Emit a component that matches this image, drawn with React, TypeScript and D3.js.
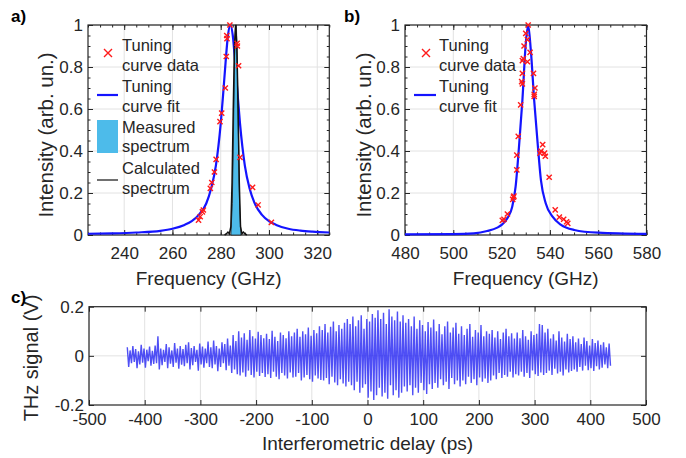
import { useEffect, useRef } from 'react';
import * as d3 from 'd3';

const W = 686, H = 458;
const FONT = '"Liberation Sans", Arial, Helvetica, sans-serif';
const INK = '#262626';
const RED = '#ff1a1a';
const BLUE = '#1414ff';
const CYAN = '#4dbbea';

// ---- panel a ----
const fitAFreq = [225, 235, 245, 255, 260, 265, 268, 271, 274, 276, 278, 280, 281, 282, 283, 284, 285, 286, 287, 288, 290, 292, 294, 297, 300, 303, 308, 313, 318, 325];
const fitAVal = [0.006, 0.008, 0.012, 0.02, 0.03, 0.048, 0.066, 0.097, 0.15, 0.22, 0.33, 0.53, 0.67, 0.82, 0.95, 1.0, 0.95, 0.82, 0.67, 0.53, 0.33, 0.22, 0.153, 0.097, 0.066, 0.048, 0.03, 0.021, 0.016, 0.012];
const dataAFreq = [283.8, 282.5, 282.6, 286.8, 286.9, 287.4, 282.3, 281.9, 280.4, 279.7, 288.0, 278.1, 277.4, 276.3, 275.7, 293.2, 295.5, 272.8, 272.4, 271.5, 270.8, 301.0];
const dataAVal = [1.0, 0.95, 0.935, 0.913, 0.9, 0.806, 0.85, 0.70, 0.58, 0.54, 0.37, 0.36, 0.30, 0.25, 0.222, 0.227, 0.143, 0.119, 0.11, 0.087, 0.071, 0.06];
const measFreq = [284.2, 284.8, 285.3, 285.7, 286.1, 286.5, 286.9, 287.3, 287.8, 288.4];
const measVal = [0, 0.15, 0.5, 0.85, 1.0, 1.0, 0.8, 0.5, 0.15, 0];
const calcFreq = [281.6, 282.4, 283.0, 283.6, 284.2, 284.7, 285.2, 285.7, 286.2, 286.7, 287.2, 287.7, 288.2, 288.8, 289.4, 290.0, 290.8];
const calcVal = [0, 0.006, 0.014, 0.006, 0.04, 0.25, 0.6, 0.9, 1.0, 0.9, 0.6, 0.25, 0.04, 0.006, 0.014, 0.006, 0];
const ticksA = [240, 260, 280, 300, 320];

// ---- panel b ----
const fitBFreq = [480, 500, 508.5, 514, 518.2, 520, 522.4, 524.4, 525.8, 527.2, 528.6, 530, 531, 532.1, 533.5, 534.9, 536.3, 538.3, 541.1, 544.6, 550.1, 560, 580];
const fitBVal = [0.003, 0.004, 0.008, 0.019, 0.035, 0.048, 0.08, 0.135, 0.23, 0.42, 0.64, 0.91, 1.0, 0.88, 0.64, 0.44, 0.26, 0.15, 0.087, 0.048, 0.024, 0.011, 0.005];
const dataBFreq = [531.0, 530.0, 530.7, 529.3, 531.8, 528.6, 529.0, 530.7, 533.2, 528.6, 528.3, 528.6, 533.8, 533.5, 533.5, 527.9, 526.9, 526.3, 526.3, 524.9, 524.6, 525.1, 522.4, 520.3, 521.0, 537.0, 536.3, 535.9, 537.8, 538.1, 539.7, 542.2, 543.9, 545.7, 546.9, 547.4];
const dataBVal = [1.0, 0.96, 0.93, 0.90, 0.87, 0.83, 0.84, 0.825, 0.77, 0.77, 0.73, 0.72, 0.70, 0.67, 0.66, 0.62, 0.47, 0.38, 0.31, 0.18, 0.17, 0.185, 0.10, 0.07, 0.075, 0.43, 0.40, 0.39, 0.39, 0.375, 0.275, 0.12, 0.085, 0.075, 0.063, 0.055];
const ticksB = [480, 500, 520, 540, 560, 580];
const ticksY = [0, 0.2, 0.4, 0.6, 0.8, 1];

// ---- panel c: max / min of the THz signal in 5 ps bins, mV ----
const sigHi = [
  35, 22, 40, 28, 18, 45, 30, 25, 38, 20,
  42, 80, 30, 25, 48, 35, 22, 52, 30, 40,
  28, 45, 55, 32, 40, 25, 50, 38, 30, 58,
  35, 62, 40, 30, 55, 48, 70, 42, 85, 60,
  100, 75, 92, 65, 105, 80, 70, 98, 85, 72,
  90, 68, 102, 78, 60, 95, 85, 72, 100, 80,
  95, 110, 78, 100, 88, 115, 82, 105, 92, 120,
  105, 130, 95, 118, 140, 100, 125, 110, 135, 150,
  130, 160, 120, 145, 165, 110, 150, 140, 170, 155,
  185, 150, 175, 130, 190, 160, 145, 180, 140, 165,
  135, 150, 120, 160, 110, 145, 125, 100, 138, 115,
  148, 100, 130, 88, 120, 140, 95, 115, 135, 90,
  120, 85, 110, 130, 78, 105, 95, 125, 80, 100,
  90, 105, 75, 100, 68, 95, 110, 80, 92, 70,
  95, 72, 105, 80, 65, 100, 85, 90, 130, 125,
  95, 110, 70, 88, 62, 100, 75, 58, 90, 68,
  80, 55, 70, 48, 75, 60, 42, 68, 52, 62,
  45, 55, 35, 50,
];
const sigLo = [
  -45, -30, -25, -50, -35, -28, -48, -22, -40, -33,
  -30, -55, -38, -25, -50, -32, -45, -28, -52, -36,
  -42, -30, -55, -38, -25, -60, -35, -48, -30, -45,
  -50, -35, -62, -45, -30, -58, -40, -70, -55, -75,
  -80, -68, -85, -60, -78, -88, -65, -82, -70, -86,
  -75, -90, -65, -85, -95, -70, -80, -92, -68, -88,
  -85, -70, -100, -88, -78, -95, -105, -80, -92, -98,
  -100, -90, -115, -85, -108, -120, -95, -112, -125, -105,
  -120, -140, -105, -150, -130, -115, -170, -145, -180, -160,
  -130, -165, -150, -175, -120, -160, -140, -170, -150, -125,
  -145, -120, -160, -130, -150, -110, -140, -155, -115, -135,
  -110, -130, -95, -120, -105, -135, -90, -115, -100, -125,
  -100, -115, -85, -110, -95, -120, -88, -105, -92, -110,
  -100, -80, -95, -70, -90, -78, -85, -65, -88, -75,
  -80, -65, -85, -70, -90, -60, -75, -82, -68, -78,
  -70, -60, -78, -52, -72, -65, -80, -55, -68, -62,
  -55, -65, -45, -60, -40, -58, -50, -62, -42, -55,
  -48, -35, -50, -40,
];
const ticksCx = [-500, -400, -300, -200, -100, 0, 100, 200, 300, 400, 500];
const ticksCy = [-0.2, 0, 0.2];

type Sel = d3.Selection<SVGGElement, unknown, null, undefined>;

interface FrameOpts {
  xt: number[]; yt: number[];       // major ticks
  xg: number[]; yg: number[];       // grid lines
  xm: number[]; ym: number[];       // minor ticks
  padX: number;
}

function frame(g: Sel, x: any, y: any, o: FrameOpts) {
  const [x0, x1] = x.range();
  const [yb, yt0] = y.range();
  g.append('g').selectAll('line').data(o.xg).join('line')
    .attr('x1', (d: number) => x(d)).attr('x2', (d: number) => x(d)).attr('y1', yt0).attr('y2', yb)
    .attr('stroke', '#e2e2e2').attr('stroke-width', 1);
  g.append('g').selectAll('line').data(o.yg).join('line')
    .attr('y1', (d: number) => y(d)).attr('y2', (d: number) => y(d)).attr('x1', x0).attr('x2', x1)
    .attr('stroke', '#e2e2e2').attr('stroke-width', 1);

  const style = (a: Sel) => {
    a.select('.domain').remove();
    a.selectAll('line').attr('stroke', INK);
    a.selectAll('text').attr('fill', INK).attr('font-family', FONT).attr('font-size', 17);
  };
  const none = () => '';
  if (o.xm.length) {
    g.append('g').attr('transform', `translate(0,${yb})`)
      .call(d3.axisBottom(x).tickValues(o.xm).tickSize(-2.5).tickFormat(none)).call(style);
    g.append('g').attr('transform', `translate(0,${yt0})`)
      .call(d3.axisTop(x).tickValues(o.xm).tickSize(-2.5).tickFormat(none)).call(style);
  }
  if (o.ym.length) {
    g.append('g').attr('transform', `translate(${x0},0)`)
      .call(d3.axisLeft(y).tickValues(o.ym).tickSize(-2.5).tickFormat(none)).call(style);
    g.append('g').attr('transform', `translate(${x1},0)`)
      .call(d3.axisRight(y).tickValues(o.ym).tickSize(-2.5).tickFormat(none)).call(style);
  }
  g.append('g').attr('transform', `translate(0,${yb})`)
    .call(d3.axisBottom(x).tickValues(o.xt).tickSize(-5).tickPadding(o.padX).tickFormat((d: any) => String(d))).call(style);
  g.append('g').attr('transform', `translate(0,${yt0})`)
    .call(d3.axisTop(x).tickValues(o.xt).tickSize(-5).tickFormat(none)).call(style);
  g.append('g').attr('transform', `translate(${x0},0)`)
    .call(d3.axisLeft(y).tickValues(o.yt).tickSize(-5).tickPadding(5).tickFormat((d: any) => String(d))).call(style);
  g.append('g').attr('transform', `translate(${x1},0)`)
    .call(d3.axisRight(y).tickValues(o.yt).tickSize(-5).tickFormat(none)).call(style);
  g.append('rect').attr('x', x0).attr('y', yt0).attr('width', x1 - x0).attr('height', yb - yt0)
    .attr('fill', 'none').attr('stroke', INK).attr('stroke-width', 1.2);
}

function crosses(g: Sel, xs: number[], vs: number[], x: any, y: any, r: number) {
  g.append('g').selectAll('path').data(xs).join('path')
    .attr('d', (d: number, i: number) => {
      const cx = x(d), cy = y(vs[i]);
      return `M${cx - r},${cy - r}L${cx + r},${cy + r}M${cx - r},${cy + r}L${cx + r},${cy - r}`;
    })
    .attr('stroke', RED).attr('stroke-width', 1.4).attr('fill', 'none');
}

function label(svg: any, txt: string, x: number, y: number, size: number, rot = false, bold = false, anchor = 'middle') {
  svg.append('text')
    .attr('transform', rot ? `translate(${x},${y}) rotate(-90)` : `translate(${x},${y})`)
    .attr('text-anchor', anchor).attr('font-family', FONT).attr('font-size', size)
    .attr('font-weight', bold ? 'bold' : 'normal').attr('fill', bold ? '#000' : INK).text(txt);
}

export default function App() {
  const ref = useRef<SVGSVGElement>(null);

  useEffect(() => {
    if (!ref.current) return;
    const svg = d3.select(ref.current);
    svg.selectAll('*').remove();
    const minorY = d3.range(0, 1.0001, 0.05);

    // ---------- panel a ----------
    const xa = d3.scaleLinear().domain([225, 325]).range([88, 329.3]);
    const ya = d3.scaleLinear().domain([0, 1]).range([235, 25]);
    const ga = svg.append('g') as Sel;
    frame(ga, xa, ya, { xt: ticksA, yt: ticksY, xg: ticksA, yg: ticksY, xm: d3.range(225, 326, 5), ym: minorY, padX: 12 });
    ga.append('path')
      .attr('d', d3.line<number>().x(d => xa(d)).y((_, i) => ya(fitAVal[i])).curve(d3.curveMonotoneX)(fitAFreq))
      .attr('fill', 'none').attr('stroke', BLUE).attr('stroke-width', 2.2);
    ga.append('path')
      .attr('d', d3.area<number>().x(d => xa(d)).y0(ya(0)).y1((_, i) => ya(measVal[i]))(measFreq))
      .attr('fill', CYAN).attr('stroke', '#1c1c1c').attr('stroke-width', 0.8);
    ga.append('path').attr('d', d3.line<number>().x(d => xa(d)).y((_, i) => ya(calcVal[i]))(calcFreq))
      .attr('fill', 'none').attr('stroke', '#111').attr('stroke-width', 1.5);
    crosses(ga, dataAFreq, dataAVal, xa, ya, 2.6);

    // legend a
    const la = svg.append('g') as Sel;
    la.append('path').attr('d', 'M104,49L112,57M104,57L112,49').attr('stroke', RED).attr('stroke-width', 1.4);
    la.append('line').attr('x1', 97).attr('x2', 118).attr('y1', 95).attr('y2', 95).attr('stroke', BLUE).attr('stroke-width', 2.2);
    la.append('rect').attr('x', 97).attr('y', 120).attr('width', 21).attr('height', 33).attr('fill', CYAN);
    la.append('line').attr('x1', 97).attr('x2', 118).attr('y1', 180).attr('y2', 180).attr('stroke', '#111').attr('stroke-width', 1.2);
    ['Tuning', 'curve data', 'Tuning', 'curve fit', 'Measured', 'spectrum', 'Calculated', 'spectrum'].forEach((t, i) => {
      label(la, t, 122, [50.5, 71, 92, 112, 133, 152, 174, 194][i], 16.5, false, false, 'start');
    });

    // ---------- panel b ----------
    const xb = d3.scaleLinear().domain([480, 580]).range([405, 646.5]);
    const gb = svg.append('g') as Sel;
    frame(gb, xb, ya, { xt: ticksB, yt: ticksY, xg: ticksB, yg: ticksY, xm: d3.range(480, 581, 5), ym: minorY, padX: 12 });
    gb.append('path')
      .attr('d', d3.line<number>().x(d => xb(d)).y((_, i) => ya(fitBVal[i])).curve(d3.curveMonotoneX)(fitBFreq))
      .attr('fill', 'none').attr('stroke', BLUE).attr('stroke-width', 2.2);
    crosses(gb, dataBFreq, dataBVal, xb, ya, 2.6);

    const lb = svg.append('g') as Sel;
    lb.append('path').attr('d', 'M422,49L430,57M422,57L430,49').attr('stroke', RED).attr('stroke-width', 1.4);
    lb.append('line').attr('x1', 414).attr('x2', 436).attr('y1', 95).attr('y2', 95).attr('stroke', BLUE).attr('stroke-width', 2.2);
    ['Tuning', 'curve data', 'Tuning', 'curve fit'].forEach((t, i) => {
      label(lb, t, 439, [50.5, 71, 92, 112][i], 16.5, false, false, 'start');
    });

    // ---------- panel c ----------
    const xc = d3.scaleLinear().domain([-500, 500]).range([89, 646]);
    const yc = d3.scaleLinear().domain([-0.2, 0.2]).range([405, 306.7]);
    const gc = svg.append('g') as Sel;
    frame(gc, xc, yc, { xt: ticksCx, yt: ticksCy, xg: ticksCx, yg: [0], xm: [], ym: [], padX: 8 });
    const delays = d3.range(-430, 436, 5);
    const pts: [number, number][] = [];
    delays.forEach((t, i) => {
      pts.push([t - 1.25, sigHi[i] / 1000]);
      pts.push([t + 1.25, sigLo[i] / 1000]);
    });
    gc.append('path').attr('d', d3.line<[number, number]>().x(d => xc(d[0])).y(d => yc(d[1]))(pts))
      .attr('fill', 'none').attr('stroke', '#2323f2').attr('stroke-width', 1.4).attr('stroke-opacity', 0.8)
      .attr('stroke-linejoin', 'bevel');

    // ---------- titles ----------
    label(svg, 'Intensity (arb. un.)', 53, 135, 20.5, true);
    label(svg, 'Intensity (arb. un.)', 371, 135, 20.5, true);
    label(svg, 'Frequency (GHz)', 208.6, 285, 19);
    label(svg, 'Frequency (GHz)', 525.7, 285, 19);
    label(svg, 'THz signal (V)', 38, 358, 20, true);
    label(svg, 'Interferometric delay (ps)', 367.5, 450, 19);
    label(svg, 'a)', 11, 22, 17, false, true, 'start');
    label(svg, 'b)', 344, 22, 17, false, true, 'start');
    label(svg, 'c)', 11, 303, 17, false, true, 'start');
  }, []);

  return (
    <svg ref={ref} width={W} height={H} viewBox={`0 0 ${W} ${H}`}
      style={{ position: 'absolute', left: 0, top: 0, background: '#fff' }} />
  );
}
